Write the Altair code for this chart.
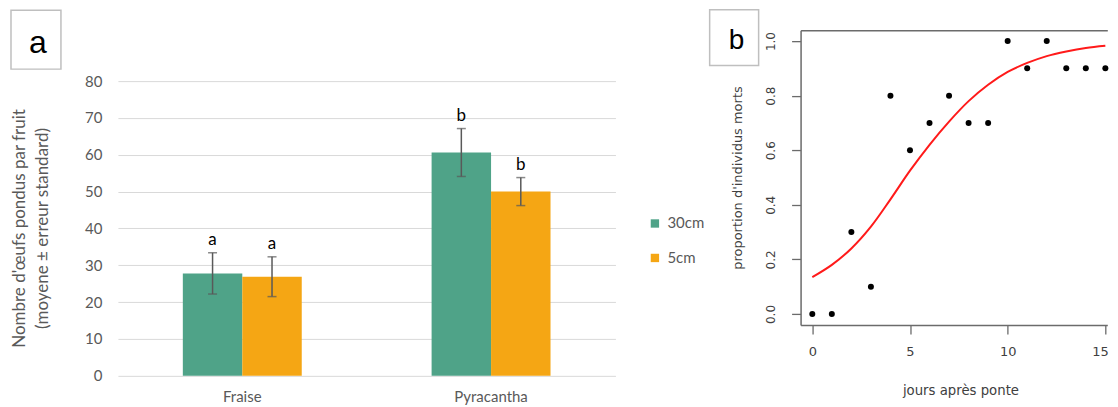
import altair as alt
import pandas as pd

# ---------- panel a data ----------
fruits = ["Fraise", "Fraise", "Pyracantha", "Pyracantha"]
heights = ["30cm", "5cm", "30cm", "5cm"]
means = [27.8, 26.9, 60.6, 50.0]
errors = [5.6, 5.4, 6.5, 3.8]
letters = ["a", "a", "b", "b"]
y_ticks_a = [0, 10, 20, 30, 40, 50, 60, 70, 80]
y_title_a = ["Nombre d'œufs pondus par fruit", "(moyene ± erreur standard)"]

# ---------- panel b data ----------
days = [0, 1, 2, 3, 4, 5, 6, 7, 8, 9, 10, 11, 12, 13, 14, 15]
dead = [0.0, 0.0, 0.3, 0.1, 0.8, 0.6, 0.7, 0.8, 0.7, 0.7, 1.0, 0.9, 1.0, 0.9, 0.9, 0.9]
fit_days = [0, 1, 2, 3, 4, 5, 6, 7, 8, 9, 10, 11, 12, 13, 14, 15]
fit_vals = [0.135, 0.18, 0.24, 0.32, 0.42, 0.525, 0.62, 0.705, 0.78, 0.84,
            0.887, 0.92, 0.945, 0.962, 0.975, 0.983]
x_ticks_b = [0, 5, 10, 15]
y_ticks_b = [0.0, 0.2, 0.4, 0.6, 0.8, 1.0]

panel_labels = ["a", "b"]

GREEN = "#4fa388"
ORANGE = "#f5a614"
GREY_TXT = "#595959"
FRAME = "#6b6b6b"
DARK = "#404040"
RFONT = "DejaVu Sans"

df_a = pd.DataFrame({"fruit": fruits, "height": heights, "mean": means,
                     "err": errors, "letter": letters})
df_a["lo"] = df_a["mean"] - df_a["err"]
df_a["hi"] = df_a["mean"] + df_a["err"]

x_a = alt.X("fruit:N", title=None,
            scale=alt.Scale(paddingInner=0.522, paddingOuter=0.261),
            axis=alt.Axis(labelFont="Lato", labelFontSize=15, labelColor=GREY_TXT,
                          labelPadding=14, ticks=False, domain=False, labelAngle=0,
                          grid=False))
xo_a = alt.XOffset("height:N", scale=alt.Scale(paddingInner=0, paddingOuter=0))
sc_y_a = alt.Scale(domain=[0, 93.8], nice=False, zero=True)
ax_y_a = alt.Axis(values=y_ticks_a, grid=True, gridColor="#d9d9d9", gridWidth=1,
                  domain=False, ticks=False, labelFont="Lato", labelFontSize=15,
                  labelColor=GREY_TXT, labelPadding=16,
                  title=y_title_a, titleAngle=270, titleX=-106, titleY=198,
                  titleAlign="center", titleBaseline="top", titleLineHeight=23,
                  titleFont="Lato", titleFontSize=17, titleColor=GREY_TXT,
                  titleFontWeight="normal")

base_a = alt.Chart(df_a)
bars = base_a.mark_bar().encode(
    x=x_a, xOffset=xo_a,
    y=alt.Y("mean:Q", scale=sc_y_a, axis=ax_y_a),
    color=alt.Color("height:N",
                    scale=alt.Scale(domain=["30cm", "5cm"], range=[GREEN, ORANGE]),
                    legend=alt.Legend(orient="none", legendX=530, legendY=186,
                                      title=None, symbolType="square", symbolSize=70,
                                      symbolStrokeWidth=0, labelFont="Lato",
                                      labelFontSize=15, labelColor=GREY_TXT,
                                      rowPadding=18.5, labelOffset=5, padding=0)),
)
err_rule = base_a.mark_rule(color=GREY_TXT, strokeWidth=1.5).encode(
    x=x_a, xOffset=xo_a,
    y=alt.Y("lo:Q", scale=sc_y_a, axis=ax_y_a), y2="hi:Q")
cap_hi = base_a.mark_tick(color=GREY_TXT, size=9, thickness=1.5).encode(
    x=x_a, xOffset=xo_a, y=alt.Y("hi:Q", scale=sc_y_a, axis=ax_y_a))
cap_lo = base_a.mark_tick(color=GREY_TXT, size=9, thickness=1.5).encode(
    x=x_a, xOffset=xo_a, y=alt.Y("lo:Q", scale=sc_y_a, axis=ax_y_a))
let_a = base_a.mark_text(dy=-8, baseline="alphabetic", font="Lato", fontSize=17,
                         color="black").encode(
    x=x_a, xOffset=xo_a, y=alt.Y("hi:Q", scale=sc_y_a, axis=ax_y_a), text="letter:N")

lab_a_df = pd.DataFrame({"lab": [panel_labels[0]]})
box_a = alt.Chart(lab_a_df).mark_rect(fill="white", stroke="#bfbfbf", strokeWidth=1.5).encode(
    x=alt.value(-107), x2=alt.value(-57), y=alt.value(-20), y2=alt.value(39))
txt_a = alt.Chart(lab_a_df).mark_text(font="Liberation Sans", fontSize=32, align="center",
                                      baseline="alphabetic", color="black").encode(
    x=alt.value(-80), y=alt.value(22.5), text="lab:N")

panel_a = alt.layer(bars, err_rule, cap_hi, cap_lo, let_a, box_a, txt_a).properties(
    width=498, height=346)

# ---------- panel b ----------
df_b = pd.DataFrame({"day": days, "dead": dead})
df_fit = pd.DataFrame({"day": fit_days, "fit": fit_vals})

sc_x_b = alt.Scale(domain=[-0.6, 15.1], nice=False, zero=False)
sc_y_b = alt.Scale(domain=[-0.04, 1.04], nice=False, zero=False)
ax_y_b = alt.Axis(values=y_ticks_b, format=".1f", grid=False, domain=True,
                  domainColor=FRAME, domainWidth=1.5, tickColor=FRAME, tickSize=9,
                  tickWidth=1.3, labelAngle=270, labelAlign="center",
                  labelBaseline="alphabetic", labelPadding=17,
                  labelFont=RFONT, labelFontSize=12, labelColor=DARK,
                  title="proportion d'individus morts", titleAngle=270, titleX=-59,
                  titleY=147.5, titleAlign="center", titleBaseline="alphabetic",
                  titleFont=RFONT, titleFontSize=13, titleColor=DARK,
                  titleFontWeight="normal")
ax_x_b = alt.Axis(orient="bottom", values=x_ticks_b, grid=False, domain=True,
                  domainColor=FRAME, domainWidth=1.5, tickColor=FRAME, tickSize=9,
                  tickWidth=1.3, labelFont=RFONT, labelFontSize=13,
                  labelColor=DARK, labelPadding=12, labelFlush=5, labelFlushOffset=3,
                  labelOverlap=False,
                  title="jours après ponte", titleX=160, titleY=69.5,
                  titleAlign="center", titleBaseline="alphabetic",
                  titleFont=RFONT, titleFontSize=13.3, titleColor=DARK,
                  titleFontWeight="normal")
ax_x_top = alt.Axis(orient="top", labels=False, ticks=False, grid=False, title=None,
                    domain=True, domainColor=FRAME, domainWidth=1.5)

pts = alt.Chart(df_b).mark_circle(size=36, color="black", opacity=1).encode(
    x=alt.X("day:Q", scale=sc_x_b, axis=ax_x_b),
    y=alt.Y("dead:Q", scale=sc_y_b, axis=ax_y_b))
curve = alt.Chart(df_fit).mark_line(color="#ff1a1a", strokeWidth=2,
                                    interpolate="catmull-rom").encode(
    x=alt.X("day:Q", scale=sc_x_b, axis=ax_x_top),
    y=alt.Y("fit:Q", scale=sc_y_b, axis=ax_y_b))

lab_b_df = pd.DataFrame({"lab": [panel_labels[1]]})
box_b = alt.Chart(lab_b_df).mark_rect(fill="white", stroke="#bfbfbf", strokeWidth=1.5).encode(
    x=alt.value(-91), x2=alt.value(-42), y=alt.value(-20.5), y2=alt.value(35.4))
txt_b = alt.Chart(lab_b_df).mark_text(font="Liberation Sans", fontSize=28, align="center",
                                      baseline="alphabetic", color="black").encode(
    x=alt.value(-64), y=alt.value(19), text="lab:N")

panel_b = alt.layer(curve, pts, box_b, txt_b).resolve_axis(x="independent").properties(
    width=307, height=295)

chart = alt.hconcat(panel_a, panel_b, spacing=185.3, bounds="flush").resolve_scale(
    color="independent").resolve_legend(color="independent").properties(
    padding={"left": 2, "top": 0, "right": 0, "bottom": 0}).configure_view(stroke=None)

chart.save("out.html", embed_options={"renderer": "svg", "actions": False})
